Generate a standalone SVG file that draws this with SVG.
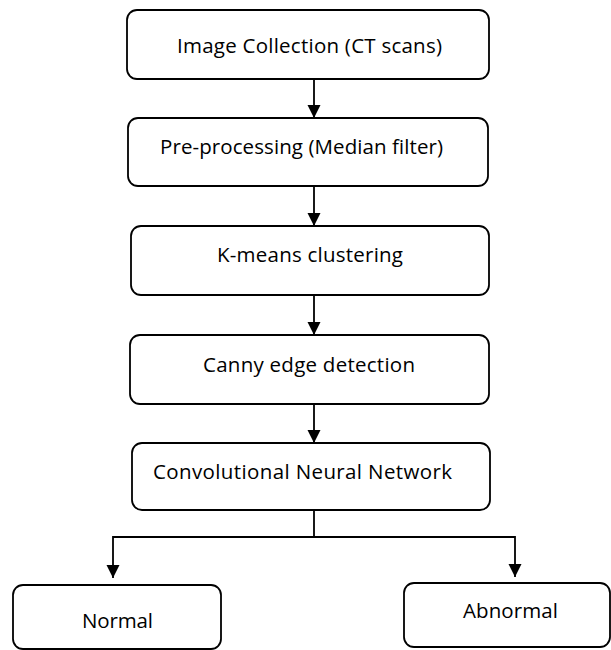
<svg xmlns="http://www.w3.org/2000/svg" width="611" height="650" viewBox="0 0 611 650">
<style>
.box{fill:#fff;stroke:#000;stroke-width:1.8}
.lbl{font-family:"Open Sans","Liberation Sans",sans-serif;font-size:20.5px;fill:#000;text-anchor:middle}
.con{fill:none;stroke:#000;stroke-width:1.8}
</style>
<defs>
<marker id="ah" markerUnits="userSpaceOnUse" markerWidth="14" markerHeight="14" refX="13" refY="7" orient="auto">
<path d="M0,0.5 L13,7 L0,13.5 z" fill="#000"/>
</marker>
</defs>
<rect width="611" height="650" fill="#fff"/>
<g id="connectors">
<line class="con" x1="314" y1="79" x2="314" y2="118" marker-end="url(#ah)"/>
<line class="con" x1="314" y1="186" x2="314" y2="226" marker-end="url(#ah)"/>
<line class="con" x1="314" y1="295" x2="314" y2="335" marker-end="url(#ah)"/>
<line class="con" x1="314" y1="404" x2="314" y2="443" marker-end="url(#ah)"/>
<polyline class="con" points="314,510 314,537"/>
<polyline class="con" points="314,537 113,537 113,578" marker-end="url(#ah)"/>
<polyline class="con" points="314,537 515,537 515,577" marker-end="url(#ah)"/>
</g>
<g id="n1">
<rect class="box" x="127" y="10" width="362" height="69" rx="10"/>
<text class="lbl" x="309.5" y="53" textLength="265">Image Collection (CT scans)</text>
</g>
<g id="n2">
<rect class="box" x="128" y="118" width="360" height="68" rx="10"/>
<text class="lbl" x="301.5" y="154" textLength="283">Pre-processing (Median filter)</text>
</g>
<g id="n3">
<rect class="box" x="131" y="226" width="358" height="69" rx="10"/>
<text class="lbl" x="310" y="262" textLength="186">K-means clustering</text>
</g>
<g id="n4">
<rect class="box" x="130" y="335" width="359" height="69" rx="10"/>
<text class="lbl" x="309" y="372" textLength="212">Canny edge detection</text>
</g>
<g id="n5">
<rect class="box" x="132" y="443" width="358" height="67" rx="10"/>
<text class="lbl" x="302.5" y="479" textLength="299">Convolutional Neural Network</text>
</g>
<g id="n6">
<rect class="box" x="13" y="585" width="208" height="64" rx="10"/>
<text class="lbl" x="117.5" y="628" textLength="71">Normal</text>
</g>
<g id="n7">
<rect class="box" x="404" y="583" width="206" height="64" rx="10"/>
<text class="lbl" x="510.5" y="618" textLength="95">Abnormal</text>
</g>
</svg>
